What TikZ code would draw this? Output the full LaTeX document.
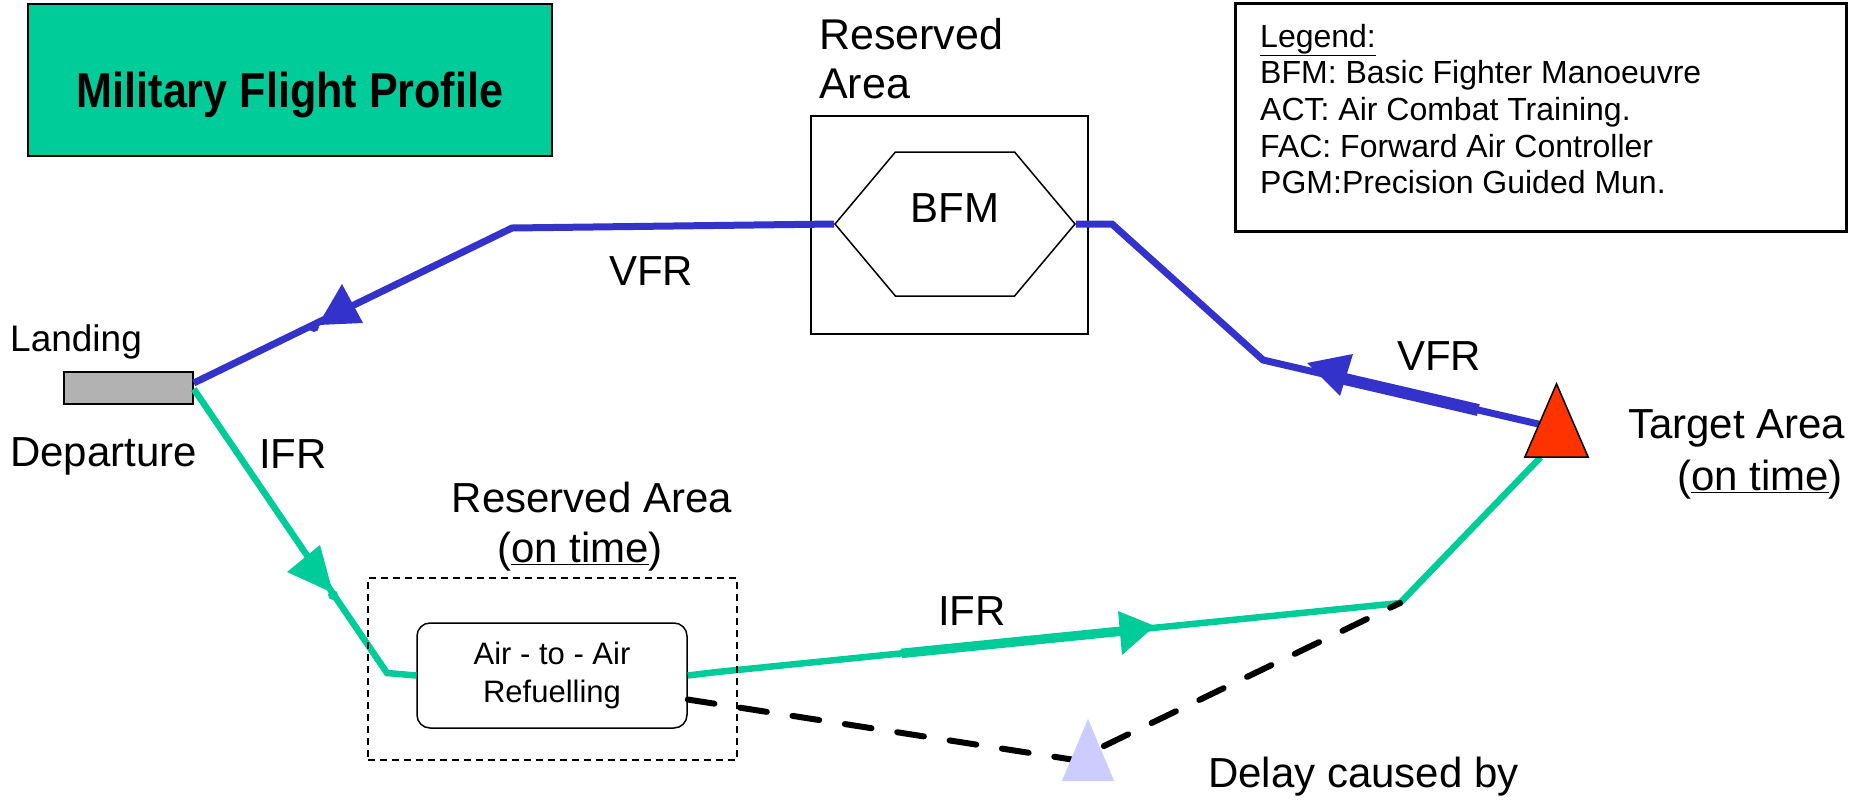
\documentclass[tikz,border=0pt]{standalone}
\usepackage{fontspec}
\setmainfont{Liberation Sans}
\usetikzlibrary{calc,shapes.symbols}

\definecolor{flightgreen}{HTML}{00CC99}
\definecolor{vfrblue}{HTML}{3333CC}
\definecolor{targetred}{HTML}{FF3300}
\definecolor{delaylilac}{HTML}{CCCCFF}
\definecolor{runwaygrey}{HTML}{B2B2B2}

\newcommand{\fsz}[1]{\fontsize{#1pt}{#1pt}\selectfont}

\begin{document}
\begin{tikzpicture}[x=1pt, y=-1pt,
  lbl/.style={inner sep=0, anchor=base west, font=\fsz{42}},
  ctr/.style={inner sep=0, anchor=base, font=\fsz{42}},
  legendline/.style={inner sep=0, anchor=base west, font=\fsz{32}},
  boxed/.style={draw, line width=1.5pt, inner sep=0},
  vfr/.style={draw=vfrblue, line width=7pt},
  vfrthick/.style={draw=vfrblue, line width=12pt},
  ifr/.style={draw=flightgreen, line width=6.5pt},
  ifrthick/.style={draw=flightgreen, line width=9.5pt},
  delayline/.style={line width=6pt, dash pattern=on 27pt off 26pt, line cap=round}
]
\useasboundingbox (0,0) rectangle (1861,804);

% ---------- boxes ----------
\node (title) [draw, line width=2pt, fill=flightgreen, inner sep=0,
  minimum width=524pt, minimum height=152pt] at (290,80) {};
\node (titletext) [ctr, xscale=0.88, font=\fsz{49}\bfseries] at (290,107) {Military Flight Profile};

\node (legend) [draw, line width=3pt, inner sep=0,
  minimum width=611pt, minimum height=228pt] at (1540.5,117) {};
\node (lg0) [legendline] at (1260,47)  {\underline{Legend:}};
\node (lg1) [legendline] at (1260,83)  {BFM: Basic Fighter Manoeuvre};
\node (lg2) [legendline] at (1260,120) {ACT: Air Combat Training.};
\node (lg3) [legendline] at (1260,157) {FAC: Forward Air Controller};
\node (lg4) [legendline] at (1260,193) {PGM:Precision Guided Mun.};

\node (bfmarea) [boxed, minimum width=277pt, minimum height=218pt] at (949.5,225) {};
\node (bfm) [signal, signal to=west and east, signal pointer angle=100,
  boxed, minimum width=240pt, minimum height=144pt] at (955,224) {};
\node (bfmtxt) [ctr] at (955,222) {BFM};

\node (runway) [boxed, fill=runwaygrey, minimum width=129pt, minimum height=32pt]
  at (128.5,388) {};

\node (target) [inner sep=0, minimum width=63pt, minimum height=73pt] at (1556.5,420.5) {};
\node (delay)  [inner sep=0, minimum width=52pt, minimum height=62pt] at (1088,750) {};

% ---------- route waypoints ----------
\coordinate (vfrA) at (512,228);
\coordinate (vfrB) at (1112,224);
\coordinate (vfrC) at (1263,360);
\coordinate (ifrA) at (387,673);
\coordinate (ifrB) at (717,672);
\coordinate (ifrC) at (1400,603);
\coordinate (dly)  at (1075,760);
\coordinate (tgtL) at ($(target.south west)!0.45!(target.north)$);
\coordinate (tgtB) at ($(target.south west)!0.25!(target.south east)$);

% ---------- VFR legs (blue) ----------
\draw[vfr] ([yshift=5pt]runway.east) -- (vfrA) -- (bfm.west);
\draw[vfr] (bfm.east) -- (vfrB) -- (vfrC) -- (tgtL);
\draw[vfrthick] ($(vfrC)!0.29!(tgtL)$) -- ($(vfrC)!0.78!(tgtL)$);
\fill[vfrblue] (318,325) -- (342,284) -- (363,323) -- cycle;
\fill[vfrblue] (314,327) circle (5pt);
\fill[vfrblue] (1307,363) -- (1353,354) -- (1340,396) -- cycle;

% ---------- IFR legs (green) ----------
\node (refuel) [boxed, fill=white, rounded corners=13pt,
  minimum width=270pt, minimum height=105pt, align=center,
  font=\fontsize{31pt}{38pt}\selectfont] at (552,675.5) {Air - to - Air\\Refuelling};
\draw[ifr] ([yshift=-1pt]runway.east) -- (ifrA) -- (refuel.west);
\draw[ifr] (refuel.east) -- (ifrB) -- (ifrC) -- (tgtB);
\draw[ifrthick] ($(ifrB)!0.27!(ifrC)$) -- ($(ifrB)!0.6!(ifrC)$);
\fill[flightgreen] (333,593) -- (320,545) -- (287,572) -- cycle;
\fill[flightgreen] (333,595) circle (5pt);
\fill[flightgreen] (1155,626) -- (1118,611) -- (1122,655) -- cycle;

\node (aarea) [draw, line width=1.5pt, dash pattern=on 7pt off 5pt, inner sep=0,
  minimum width=369pt, minimum height=182pt] at (552.5,669) {};

% ---------- delayed route ----------
\draw[delayline] ([yshift=-24pt]refuel.east) -- (dly) -- (ifrC);

% ---------- area markers ----------
\fill[delaylilac] (delay.south west) -- (delay.north) -- (delay.south east) -- cycle;
\filldraw[fill=targetred, line width=1.5pt, line join=miter]
  (target.south west) -- (target.north) -- (target.south east) -- cycle;

% ---------- labels ----------
\node (resT1) [lbl, font=\fsz{43}] at (819,49) {Reserved};
\node (resT2) [lbl, font=\fsz{43}] at (819,98) {Area};
\node (vfr1)  [lbl] at (609,285) {VFR};
\node (vfr2)  [lbl] at (1397,370) {VFR};
\node (land)  [lbl, font=\fsz{37}] at (10,351) {Landing};
\node (dep)   [lbl] at (10,466) {Departure};
\node (ifr1)  [lbl] at (259,468) {IFR};
\node (ifr2)  [lbl] at (938,625) {IFR};
\node (resB1) [ctr] at (592,512) {Reserved Area};
\node (resB2) [ctr] at (580,562) {(\underline{on time})};
\node (tgt1)  [lbl] at (1628,438) {Target Area};
\node (tgt2)  [lbl] at (1677,490) {(\underline{on time})};
\node (dlyT)  [lbl] at (1208,787) {Delay caused by};
\end{tikzpicture}
\end{document}
